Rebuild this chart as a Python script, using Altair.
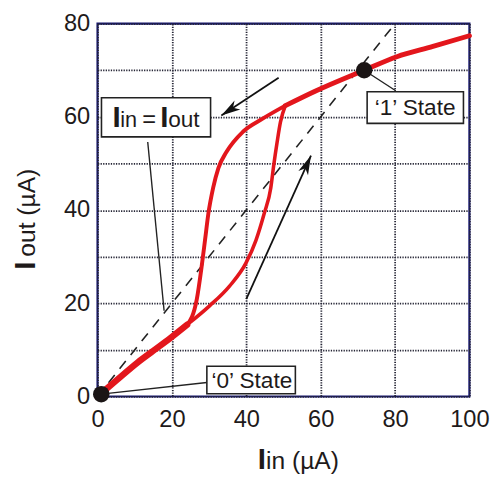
import altair as alt
import pandas as pd

FONT = "Liberation Sans"
RED = "#e3161c"
NAVY = "#16166e"
INK = "#1e1a1a"

# ---- data (Iin, Iout in µA) ----
low_x = [0, 5, 10.8, 15, 19.7, 24.1]
low_y = [0, 3.4, 7.3, 9.8, 12.6, 15.4]
up_x = [24.1, 26.7, 28.0, 28.9, 29.8, 31.1, 32.5, 34.7, 39.1, 44.4, 50.5]
up_y = [15.4, 20.9, 27.9, 33.5, 39.2, 44.8, 49.0, 52.5, 56.8, 59.6, 62.4]
dn_x = [24.1, 30.2, 35.5, 39.9, 42.6, 44.8, 46.6, 47.4, 48.3, 49.2, 50.5]
dn_y = [15.4, 19.5, 23.7, 28.6, 33.5, 39.2, 44.8, 49.7, 54.6, 58.9, 62.4]
hi_x = [50.5, 58.5, 71.7, 80.5, 90.2, 100]
hi_y = [62.4, 65.5, 70.0, 72.9, 75.1, 77.4]
ident_x = [0, 80]
ident_y = [0, 80]
state_x = [1, 71.7]
state_y = [0.5, 70]

x_ticks = [0, 20, 40, 60, 80, 100]
y_ticks = [0, 10, 20, 30, 40, 50, 60, 70, 80]

# callout segments (x, y) -> (x2, y2)
seg_x = [13.5, 1, 71.7]
seg_y = [54.6, 0.5, 70]
seg_x2 = [17.9, 29.4, 80.2]
seg_y2 = [18.4, 3.0, 65.6]
# arrow shafts
arr_x = [48.7, 40.0]
arr_y = [68.4, 20.9]
arr_x2 = [33.3, 57.4]
arr_y2 = [60.3, 51.7]

# label boxes
box_x = [1.06, 72.5, 29.4]
box_x2 = [30.4, 98.4, 53.2]
box_y = [64.1, 65.4, 6.5]
box_y2 = [55.7, 58.6, 0.6]

xscale = alt.Scale(domain=[0, 100], nice=False, zero=False)
yscale = alt.Scale(domain=[0, 80], nice=False, zero=False)

X_AX = alt.Axis(values=x_ticks, title=None, grid=True, labelFlush=False,
                labelPadding=12, ticks=False, domain=False)
Y_AX = alt.Axis(values=y_ticks, title=None, grid=True, labelFlush=False,
                labelPadding=8, ticks=False, domain=False,
                labelExpr="datum.value % 20 === 0 ? datum.label : ''")


def XE():
    return alt.X("x:Q", scale=xscale, axis=X_AX)


def YE():
    return alt.Y("y:Q", scale=yscale, axis=Y_AX)


def line_layer(xs, ys, **kw):
    df = pd.DataFrame({"x": xs, "y": ys, "i": list(range(len(xs)))})
    return alt.Chart(df).mark_line(**kw).encode(x=XE(), y=YE(), order="i:Q")


def seg_layer(xs, ys, x2s, y2s, **kw):
    df = pd.DataFrame({"x": xs, "y": ys, "x2": x2s, "y2": y2s})
    return alt.Chart(df).mark_rule(**kw).encode(
        x=XE(), y=YE(), x2="x2:Q", y2="y2:Q")


def text_layer(text, x, y, size, weight="normal", align="left", angle=0):
    df = pd.DataFrame({"x": [x], "y": [y], "t": [text]})
    return alt.Chart(df).mark_text(
        font=FONT, fontSize=size, fontWeight=weight, align=align,
        baseline="alphabetic", angle=angle, color=INK, clip=False
    ).encode(x=XE(), y=YE(), text="t:N")


ARROW = "M0,0 L0.55,2 L0,1.45 L-0.55,2 Z"


def head_layer(x, y, angle):
    df = pd.DataFrame({"x": [x], "y": [y]})
    return alt.Chart(df).mark_point(
        shape=ARROW, filled=True, fill="#111111", strokeWidth=0,
        size=380, angle=angle, opacity=1
    ).encode(x=XE(), y=YE())


dashed = line_layer(ident_x, ident_y, color="#222222",
                    strokeWidth=1.6, strokeDash=[10, 8])
callouts = seg_layer(seg_x, seg_y, seg_x2, seg_y2, color="#222222",
                     strokeWidth=1.4)
shafts = seg_layer(arr_x, arr_y, arr_x2, arr_y2, color="#111111",
                   strokeWidth=1.8)
heads = [head_layer(arr_x2[0], arr_y2[0], 237),
         head_layer(arr_x2[1], arr_y2[1], 24)]

curve_kw = dict(color=RED, interpolate="monotone", strokeCap="round",
                strokeJoin="round")
low = line_layer(low_x, low_y, strokeWidth=6.5, **curve_kw)
up = line_layer(up_x, up_y, strokeWidth=4, **curve_kw)
dn = line_layer(dn_x, dn_y, strokeWidth=3.6, **curve_kw)
hi = line_layer(hi_x, hi_y, strokeWidth=5, **curve_kw)

boxes_df = pd.DataFrame({"x": box_x, "x2": box_x2, "y": box_y, "y2": box_y2})
boxes = alt.Chart(boxes_df).mark_rect(
    fill="white", stroke="#222222", strokeWidth=1.6
).encode(x=XE(), x2="x2:Q", y=YE(), y2="y2:Q")

dots = alt.Chart(pd.DataFrame({"x": state_x, "y": state_y})).mark_circle(
    size=280, color="#1b1515", opacity=1
).encode(x=XE(), y=YE())

texts = [
    # box label Iin = Iout
    text_layer("I", 4.0, 57.8, 30, "bold"),
    text_layer("in", 6.1, 57.8, 22),
    text_layer("=", 12.0, 57.8, 24),
    text_layer("I", 16.9, 57.8, 30, "bold"),
    text_layer("out", 19.0, 57.8, 23),
    # state labels
    text_layer("\u20181\u2019 State", 85.4, 60.3, 23, align="center"),
    text_layer("\u20180\u2019 State", 41.5, 1.9, 23, align="center"),
    # axis titles
    text_layer("I", 43.1, -15.6, 30, "bold"),
    text_layer("in (\u00b5A)", 45.3, -15.6, 25),
    text_layer("I", -16.9, 27.2, 30, "bold", angle=270),
    text_layer("out (\u00b5A)", -16.9, 30.0, 25, angle=270),
]

chart = alt.layer(
    dashed, callouts, shafts, *heads, low, up, dn, hi, boxes, *texts, dots
).properties(
    width=378, height=379,
    autosize=alt.AutoSizeParams(type="none"),
    padding={"left": 91, "top": 12, "right": 25, "bottom": 80},
).configure_view(
    stroke=NAVY, strokeWidth=2.2
).configure_axis(
    gridColor="#262636", gridDash=[1.3, 1.3], gridWidth=1.8, gridOpacity=1,
    labelFont=FONT, labelFontSize=24, labelColor=INK,
)

chart.save("out.html", embed_options={"renderer": "svg", "actions": False})
